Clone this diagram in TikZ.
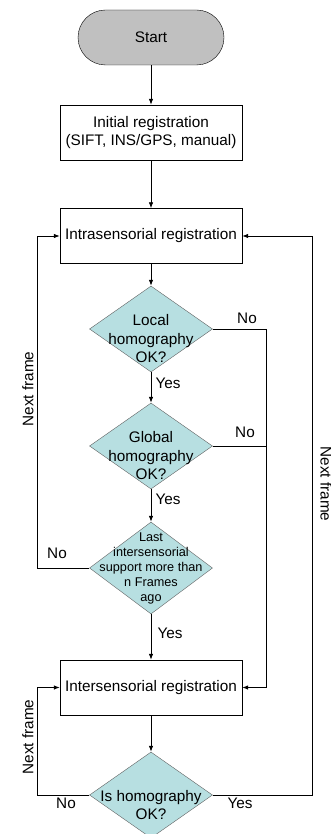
\documentclass[tikz,border=0pt]{standalone}
\usepackage{fontspec}
\setmainfont{Liberation Sans}
\usetikzlibrary{shapes.geometric,arrows.meta}
\definecolor{teal1}{HTML}{B7DFE1}
\definecolor{gray1}{HTML}{C0C0C0}
\definecolor{dgray}{HTML}{606060}
\tikzset{
  base/.style={font=\fontsize{15.3}{18.5}\selectfont, inner sep=0pt},
  term/.style={draw=black, fill=gray1, rounded corners=27.5pt, minimum width=146pt, minimum height=55pt, base},
  procbox/.style={draw=black, fill=white, minimum width=182pt, minimum height=55pt, align=center, base},
  dec/.style={draw=dgray, fill=teal1, diamond, minimum width=123pt, minimum height=86pt, inner sep=0pt, aspect=1.43},
  dtext/.style={align=center, base},
  stext/.style={align=center, inner sep=0pt, font=\fontsize{12.7}{15}\selectfont},
  lab/.style={base},
  arr/.style={-{Latex[length=6pt,width=4.5pt]}, line width=0.8pt},
  ln/.style={line width=0.8pt},
}
\begin{document}
\begin{tikzpicture}[x=1pt,y=-1pt]
\useasboundingbox (0,0) rectangle (331,834);
\node[term] (start) at (151,37.5) {Start};
\node[procbox] (init) at (151,132.5) {Initial registration\\(SIFT, INS/GPS, manual)};
\node[procbox] (intra) at (151,236) {Intrasensorial registration};
\node[dec] (local) at (151,329) {};
\node[dtext] (localt) at (151,339) {Local\\homography\\OK?};
\node[dec] (global) at (151,446) {};
\node[dtext] (globalt) at (151,456) {Global\\homography\\OK?};
\node[dec, minimum height=92pt, aspect=1.33] (last) at (151,568) {};
\node[stext] (lastt) at (151,568) {Last\\intersensorial\\support more than\\n Frames\\ago};
\node[procbox] (inter) at (151,687.5) {Intersensorial registration};
\node[dec] (ishom) at (151,795) {};
\node[dtext] (ishomt) at (151,805) {Is homography\\OK?};

\draw[arr] (start) -- (init);
\draw[arr] (init) -- (intra);
\draw[arr] (intra) -- (local);
\draw[arr] (local) -- (global);
\draw[arr] (global) -- (last);
\draw[arr] (last) -- (inter);
\draw[arr] (inter) -- (ishom);

\coordinate (jn) at (266,329);
\draw[arr] (local.east) -- (jn) |- (inter.east);
\draw[ln] (global.east) -- (jn |- global.east);
\coordinate (lx) at (37,568);
\draw[arr] (last.west) -- (lx) |- (intra.west);
\coordinate (bx) at (37,795);
\draw[arr] (ishom.west) -- (bx) |- (inter.west);
\coordinate (rx) at (312,795);
\draw[arr] (ishom.east) -- (rx) |- (intra.east);

\node[lab] (y1) at (168,383) {Yes};
\node[lab] (y2) at (168,499) {Yes};
\node[lab] (y3) at (170,633) {Yes};
\node[lab] (n1) at (247,318) {No};
\node[lab] (n2) at (245,432) {No};
\node[lab] (n3) at (57,553) {No};
\node[lab] (n4) at (66,803) {No};
\node[lab] (y4) at (240,803) {Yes};
\node[lab, rotate=90] (nf1) at (28,389) {Next frame};
\node[lab, rotate=90] (nf2) at (28,737) {Next frame};
\node[lab, rotate=-90] (nf3) at (326,484) {Next frame};
\end{tikzpicture}
\end{document}
